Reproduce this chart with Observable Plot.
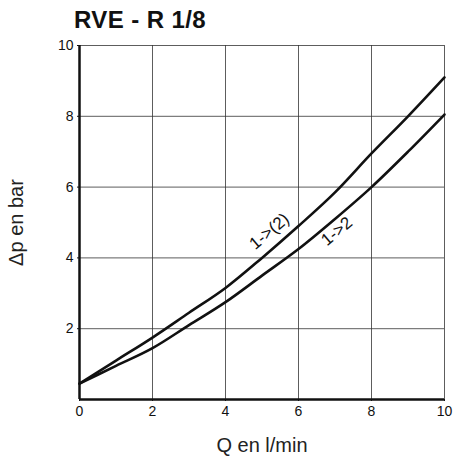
<!DOCTYPE html>
<html><head><meta charset="utf-8">
<script src="https://cdn.jsdelivr.net/npm/d3@7"></script>
<script src="https://cdn.jsdelivr.net/npm/@observablehq/plot@0.6"></script>
<style>
body{margin:0;background:#fff;font-family:"Liberation Sans",Arial,sans-serif;}
#title{height:34px;box-sizing:border-box;padding:6px 0 0 74px;font-weight:bold;font-size:24px;letter-spacing:0.4px;color:#111;line-height:28px;}
svg{display:block;}
</style></head><body>
<div id="title">RVE - R 1/8</div>
<div id="chart"></div>
<script>
const flow = [0,1,2,3,4,5,6,7,8,9,10];
const dpUpper = [0.45,1.1,1.75,2.45,3.15,4.0,4.9,5.85,6.95,8.0,9.1];
const dpLower = [0.45,0.95,1.45,2.1,2.75,3.5,4.25,5.1,6.0,7.0,8.05];
const xTicks = [0,2,4,6,8,10];
const yTicks = [2,4,6,8,10];
const labels = [
  {q:5.2, dp:4.75, text:"1->(2)"},
  {q:7.05, dp:4.75, text:"1->2"}
];
const upper = flow.map((q,i)=>({q, dp:dpUpper[i]}));
const lower = flow.map((q,i)=>({q, dp:dpLower[i]}));

const plot = Plot.plot({
  width:454, height:427,
  marginLeft:79, marginRight:10, marginTop:11, marginBottom:62,
  style:{fontFamily:"Liberation Sans, Arial, sans-serif", fontSize:"14px", color:"#111"},
  x:{domain:[0,10], ticks:xTicks, label:null},
  y:{domain:[0,10], ticks:yTicks, label:null},
  marks:[
    Plot.ruleX([2,4,6,8,10], {stroke:"#333", strokeWidth:0.8}),
    Plot.ruleY([2,4,6,8,10], {stroke:"#333", strokeWidth:0.8}),
    Plot.ruleX([0], {stroke:"#111", strokeWidth:2.5}),
    Plot.ruleY([0], {stroke:"#111", strokeWidth:2.5}),
    Plot.axisX({ticks:xTicks, tickSize:2, tickPadding:5, fontSize:14, label:null}),
    Plot.axisY({ticks:yTicks, tickSize:2, tickPadding:4, fontSize:14, label:null}),
    Plot.line(upper, {x:"q", y:"dp", curve:"monotone-x", stroke:"#111", strokeWidth:2.6}),
    Plot.line(lower, {x:"q", y:"dp", curve:"monotone-x", stroke:"#111", strokeWidth:2.6}),
    Plot.text(labels, {x:"q", y:"dp", text:"text", rotate:-40, fontSize:17, fill:"#111"}),
    Plot.text(["Q en l/min"], {frameAnchor:"bottom", lineAnchor:"middle", textAnchor:"middle", dy:46, fontSize:20, fill:"#222"}),
    Plot.text(["Δp en bar"], {frameAnchor:"left", lineAnchor:"middle", textAnchor:"middle", dx:-63, rotate:-90, fontSize:20, fill:"#222"})
  ]
});
document.getElementById("chart").appendChild(plot);
</script>
</body></html>
